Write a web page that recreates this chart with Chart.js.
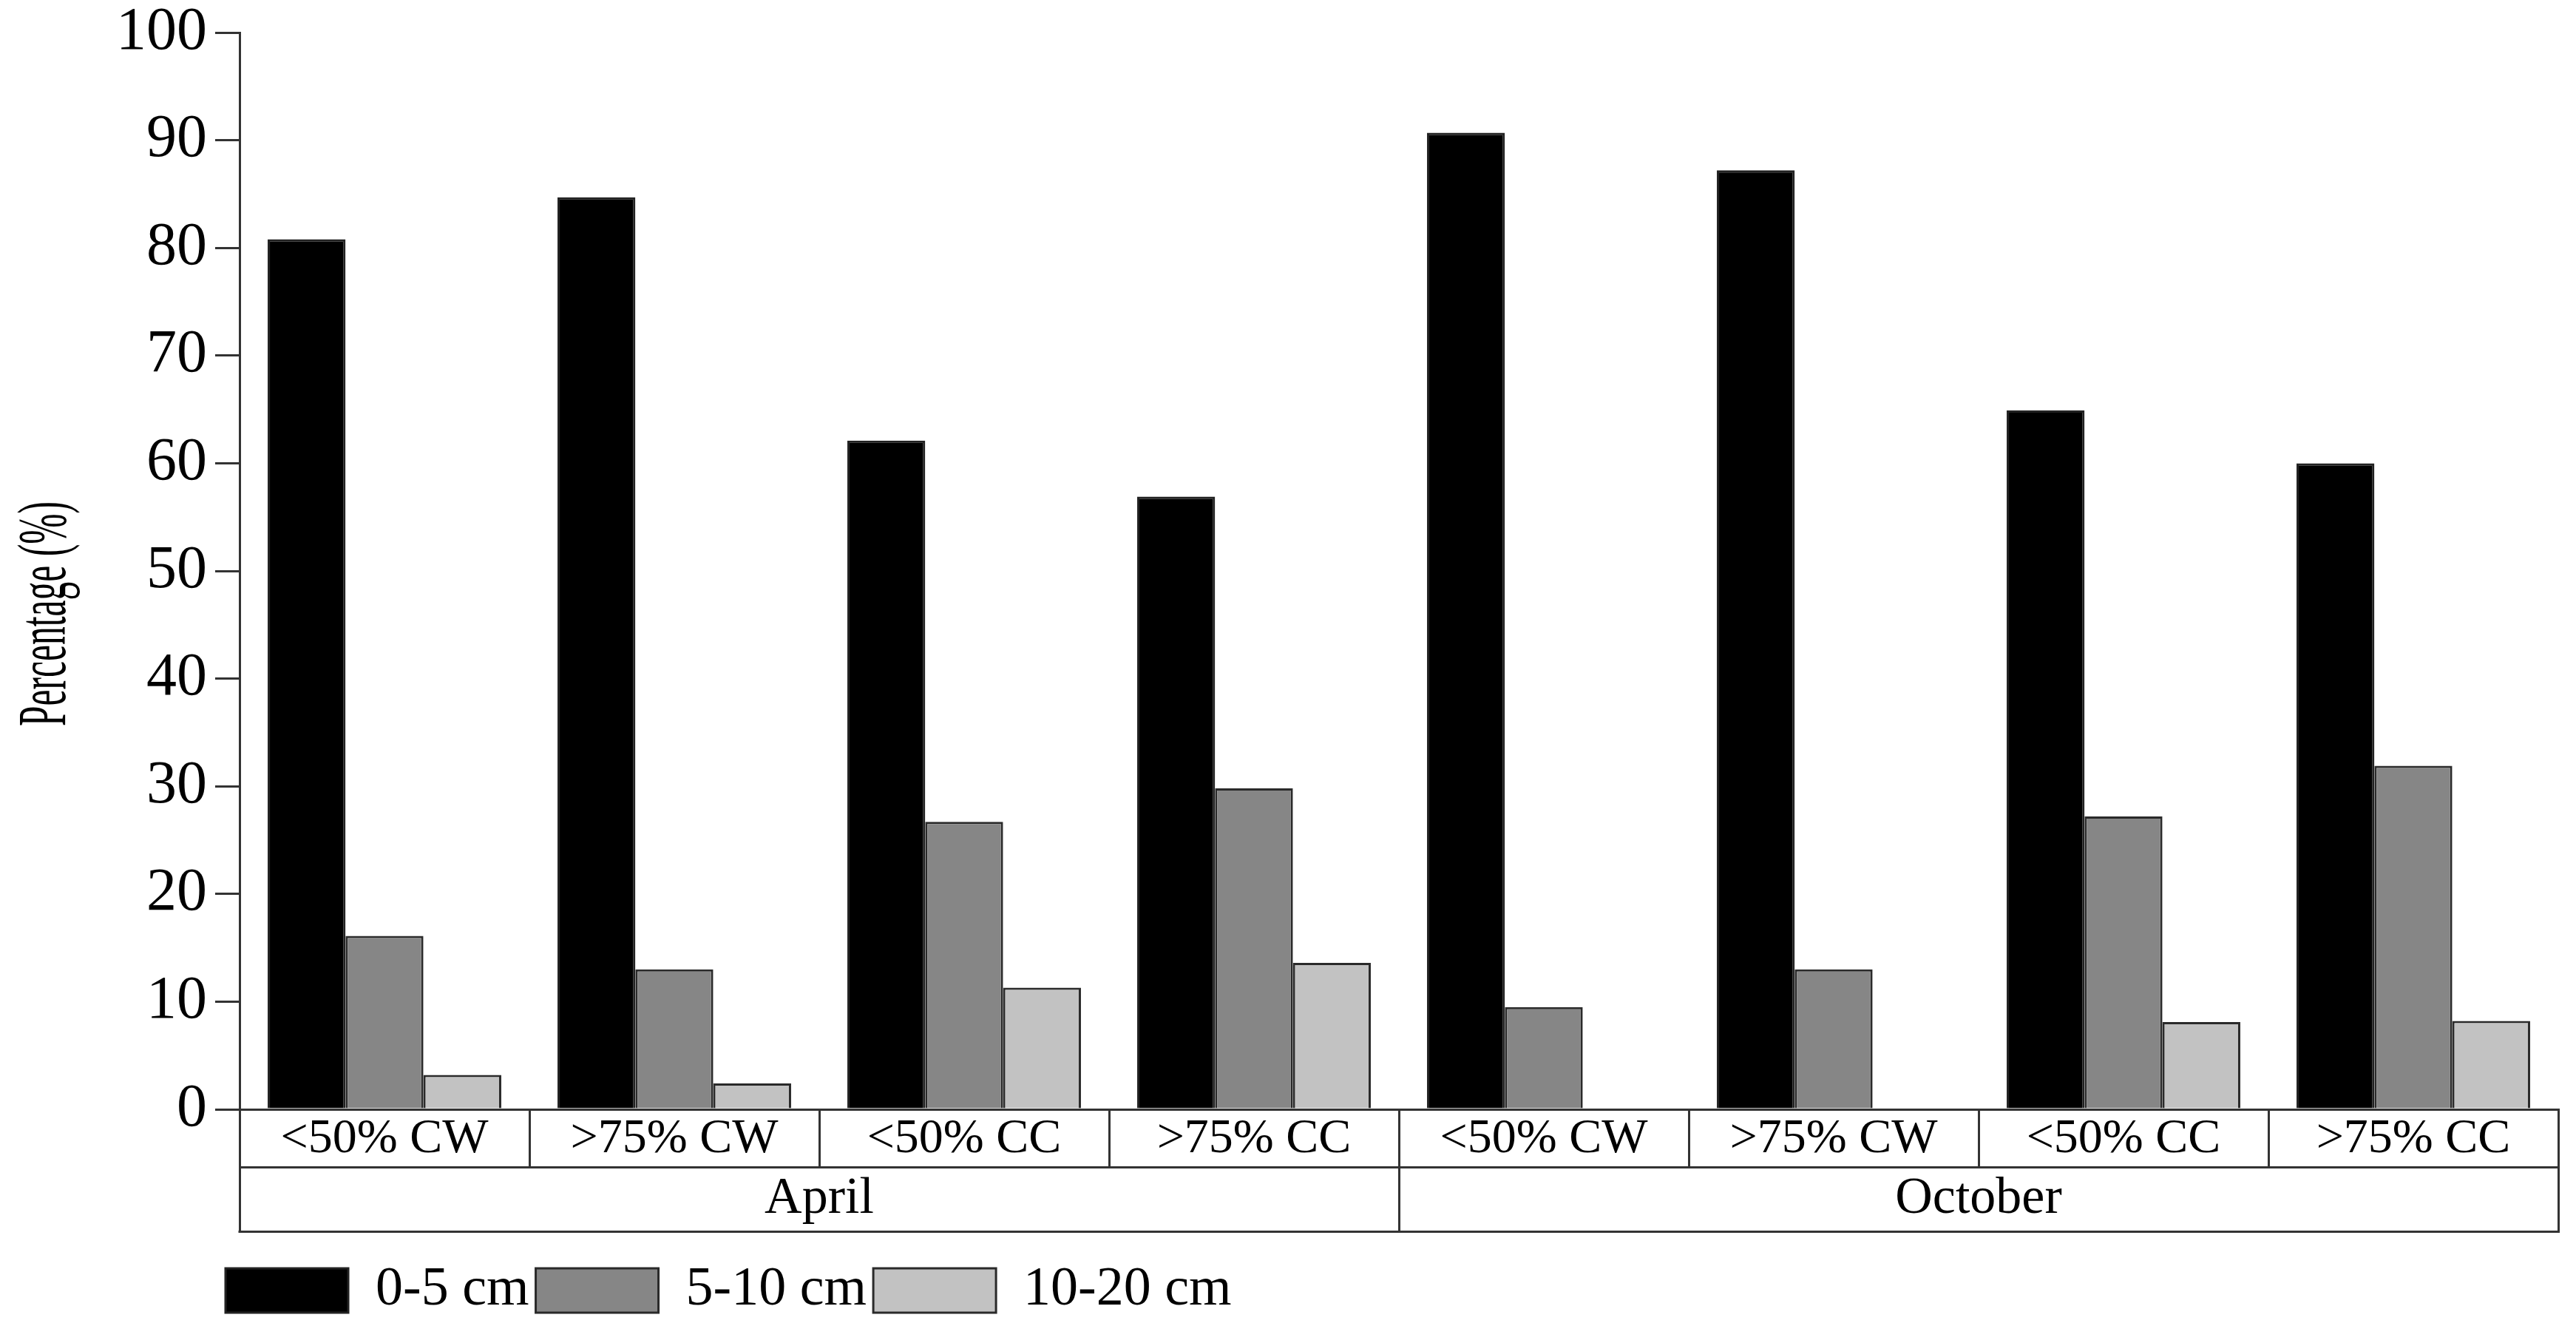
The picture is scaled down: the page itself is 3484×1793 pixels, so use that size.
<!DOCTYPE html>
<html><head><meta charset="utf-8">
<script src="https://cdn.jsdelivr.net/npm/chart.js@4.4.1/dist/chart.umd.min.js"></script>
<style>html,body{margin:0;padding:0;background:#fff;overflow:hidden}</style>
</head><body>
<canvas id="c" width="3484" height="1793"></canvas>
<script>
const categories = ['<50% CW', '>75% CW', '<50% CC', '>75% CC', '<50% CW', '>75% CW', '<50% CC', '>75% CC'];
const months = ['April', 'October'];
const seriesNames = ['0-5 cm', '5-10 cm', '10-20 cm'];
const depth0to5 = [80.8, 84.7, 62.1, 56.9, 90.7, 87.2, 64.9, 60.0];
const depth5to10 = [16.1, 13.0, 26.7, 29.8, 9.5, 13.0, 27.2, 31.9];
const depth10to20 = [3.2, 2.4, 11.3, 13.6, 0, 0, 8.1, 8.2];
const yTicks = [0, 10, 20, 30, 40, 50, 60, 70, 80, 90, 100];
const yTitle = 'Percentage (%)';

const FONT = "'Liberation Serif', 'Times New Roman', serif";
const LINE = '#333333';

const tablePlugin = {
  id: 'tableLines',
  afterLayout(chart) {
    const lg = chart.legend;
    const x2 = chart.scales.x2;
    if (lg) {
      const h = lg.height, w = lg.width;
      lg.left = 296; lg.top = x2.bottom + 32;
      lg.right = lg.left + w; lg.bottom = lg.top + h + 20;
      lg.width = w; lg.height = h + 20;
    }
  },
  afterDraw(chart) {
    const x2 = chart.scales.x2;
    const ys = chart.scales.y;
    const ctx = chart.ctx;
    ctx.save();
    ctx.strokeStyle = LINE;
    ctx.lineWidth = 3;
    ctx.beginPath();
    ctx.moveTo(x2.left - 1.5, Math.round(x2.bottom) - 1.5);
    ctx.lineTo(x2.right + 1.5, Math.round(x2.bottom) - 1.5);
    ctx.stroke();
    ctx.restore();
    // y-axis title (condensed serif, as in the original figure)
    ctx.save();
    ctx.fillStyle = '#000';
    ctx.font = "94px " + FONT;
    const w = ctx.measureText(yTitle).width;
    const cy = (ys.top + ys.bottom) / 2 + 58;
    ctx.translate(ys.left + 88, cy);
    ctx.rotate(-Math.PI / 2);
    ctx.scale(304 / w, 1);
    ctx.textAlign = 'center';
    ctx.textBaseline = 'alphabetic';
    ctx.fillText(yTitle, 0, 0);
    ctx.restore();
  }
};

const gridCommon = (len) => ({
  display: true, drawOnChartArea: false, drawTicks: true,
  tickLength: len, color: LINE, lineWidth: 3, offset: true
});

new Chart(document.getElementById('c'), {
  type: 'bar',
  data: {
    labels: categories,
    datasets: [
      { label: seriesNames[0], data: depth0to5, backgroundColor: '#000000', borderColor: '#222222', borderWidth: 3 },
      { label: seriesNames[1], data: depth5to10, backgroundColor: '#868686', borderColor: '#2a2a2a', borderWidth: 3 },
      { label: seriesNames[2], data: depth10to20, backgroundColor: '#c2c2c2', borderColor: '#2a2a2a', borderWidth: 3 }
    ]
  },
  options: {
    responsive: false,
    devicePixelRatio: 1,
    animation: false,
    categoryPercentage: 0.806,
    barPercentage: 1.0,
    layout: { padding: { top: 44, right: 24, left: 0, bottom: 33 } },
    plugins: {
      tooltip: { enabled: false },
      title: { display: false },
      legend: {
        display: true,
        position: 'bottom',
        align: 'start',
        labels: {
          boxWidth: 166, boxHeight: 60, padding: 9,
          color: '#000', font: { family: FONT, size: 74 }
        }
      }
    },
    scales: {
      y: {
        min: 0, max: 100,
        afterBuildTicks: (s) => { s.ticks = yTicks.map(v => ({ value: v })); },
        afterFit: (s) => { s.width = 324; },
        ticks: { color: '#000', padding: 11, font: { family: FONT, size: 82, lineHeight: 0.5 } },
        grid: { display: true, drawOnChartArea: false, drawTicks: true, tickLength: 33, color: LINE, lineWidth: 3 },
        border: { display: true, color: LINE, width: 3 },
        title: { display: false, text: yTitle }
      },
      x: {
        weight: 0,
        afterFit: (s) => { s.height = 78; },
        ticks: { color: '#000', padding: -77, maxRotation: 0, autoSkip: false, font: { family: FONT, size: 66 } },
        grid: gridCommon(78),
        border: { display: true, color: LINE, width: 3 }
      },
      x2: {
        type: 'category',
        labels: months,
        position: 'bottom',
        offset: true,
        weight: 1,
        afterFit: (s) => { s.height = 89; },
        ticks: { color: '#000', padding: -87, maxRotation: 0, autoSkip: false, font: { family: FONT, size: 70 } },
        grid: gridCommon(89),
        border: { display: true, color: LINE, width: 3 }
      }
    }
  },
  plugins: [tablePlugin]
});
</script>
</body></html>
